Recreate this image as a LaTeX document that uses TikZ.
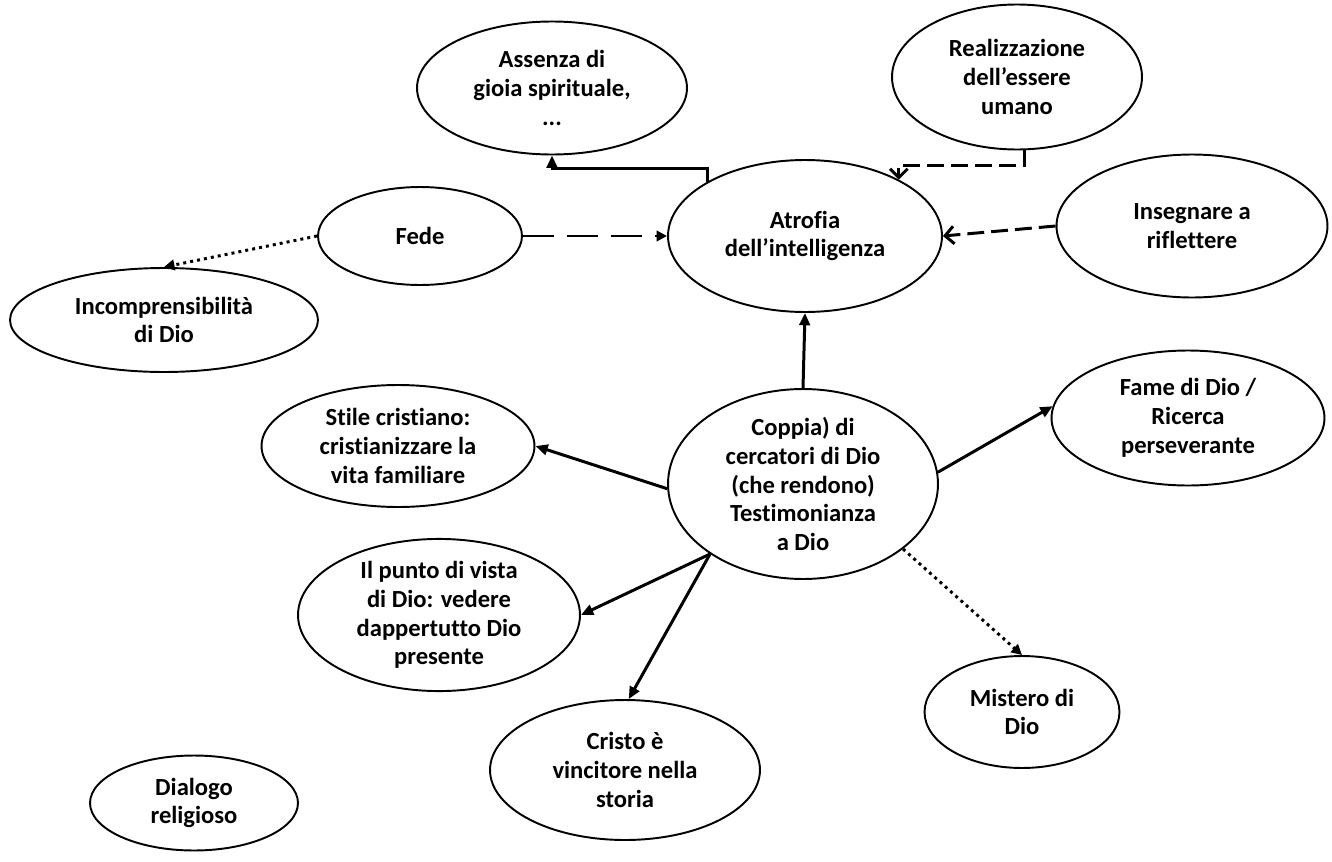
\documentclass[tikz,border=0pt]{standalone}
\usepackage{fontspec}
\setmainfont{Carlito}[Ligatures={NoCommon}]
\usetikzlibrary{shapes.geometric,arrows.meta}
\tikzset {>=Stealth}
\tikzset{
  bubble/.style={ellipse, draw, line width=1.1pt, align=center, inner sep=0pt,
    font=\fontsize{14}{16.4}\selectfont\bfseries},
  link/.style={line width=1.7pt, -{Triangle[length=7pt,width=6pt]}},
  dashlink/.style={line width=1.7pt, dash pattern=on 9.6pt off 4pt,
    -{Straight Barb[length=5pt,width=10pt]}},
  dotlink/.style={line width=1.7pt, dash pattern=on 1.7pt off 2.3pt,
    -{Triangle[length=6pt,width=6pt]}}
}

\begin{document}
\begin{tikzpicture}[x=0.02cm,y=-0.02cm]

\useasboundingbox (0,0) rectangle (1332,862);

% Upper bubbles
\node[bubble, minimum width=5.4cm, minimum height=2.66cm] (assenza) at (552,88)
  {Assenza di\\gioia spirituale,\\...};
\node[bubble, minimum width=5.0cm, minimum height=2.9cm] (realizz) at (1017,77)
  {Realizzazione\\dell’essere\\umano};
\node[bubble, minimum width=5.48cm, minimum height=3.04cm] (atrofia) at (805,236)
  {Atrofia\\dell’intelligenza};
\node[bubble, minimum width=4.08cm, minimum height=1.96cm] (fede) at (420,236) {Fede};
\node[bubble, minimum width=5.42cm, minimum height=2.86cm] (insegnare) at (1192,226)
  {Insegnare a\\riflettere};
\node[bubble, minimum width=6.16cm, minimum height=2.08cm] (incompr) at (164,320)
  {Incomprensibilità\\di Dio};

% Middle bubbles
\node[bubble, minimum width=5.46cm, minimum height=2.44cm] (stile) at (398,446)
  {Stile cristiano:\\cristianizzare la\\vita familiare};
\node[bubble, minimum width=5.4cm, minimum height=3.8cm] (coppia) at (803,484)
  {Coppia) di\\cercatori di Dio\\(che rendono)\\Testimonianza\\a Dio};
\node[bubble, minimum width=5.46cm, minimum height=2.7cm] (fame) at (1188,418)
  {Fame di Dio /\\Ricerca\\perseverante};

% Lower bubbles
\node[bubble, minimum width=5.64cm, minimum height=2.8cm] (punto) at (439,615)
  {Il punto di vista\\di Dio: vedere\\dappertutto Dio\\presente};
\node[bubble, minimum width=3.9cm, minimum height=2.24cm] (mistero) at (1022,712)
  {Mistero di\\Dio};
\node[bubble, minimum width=5.4cm, minimum height=2.8cm] (cristo) at (625,770)
  {Cristo è\\vincitore nella\\storia};
\node[bubble, minimum width=4.16cm, minimum height=1.9cm] (dialogo) at (194,803)
  {Dialogo\\religioso};

% Connectors around Atrofia
\draw [link] (atrofia.151) -- ++(0,-13) -| (assenza.south);
\draw [dashlink] (realizz.-84) -- ++(0,15) -| (atrofia.31);
\draw [dashlink] (insegnare.west) -- (atrofia.east);
\draw [line width=1.7pt, dash pattern=on 17.6pt off 7.4pt, -{Triangle[length=6pt,width=6pt]}]
  (fede.east) -- (atrofia.west);
\draw [dotlink] (fede.west) -- (incompr.north);

% Connectors from Coppia
\draw [link] (coppia.north) -- (atrofia.south);
\draw [link] (coppia.182) -- (stile.east);
\draw [link] (coppia.5) -- (fame.175);
\draw [link] (coppia.217) -- (punto.east);
\draw [link] (coppia.217) -- (cristo.87);
\draw [dotlink] (coppia.-33) -- (mistero.north);

\end{tikzpicture}
\end{document}
